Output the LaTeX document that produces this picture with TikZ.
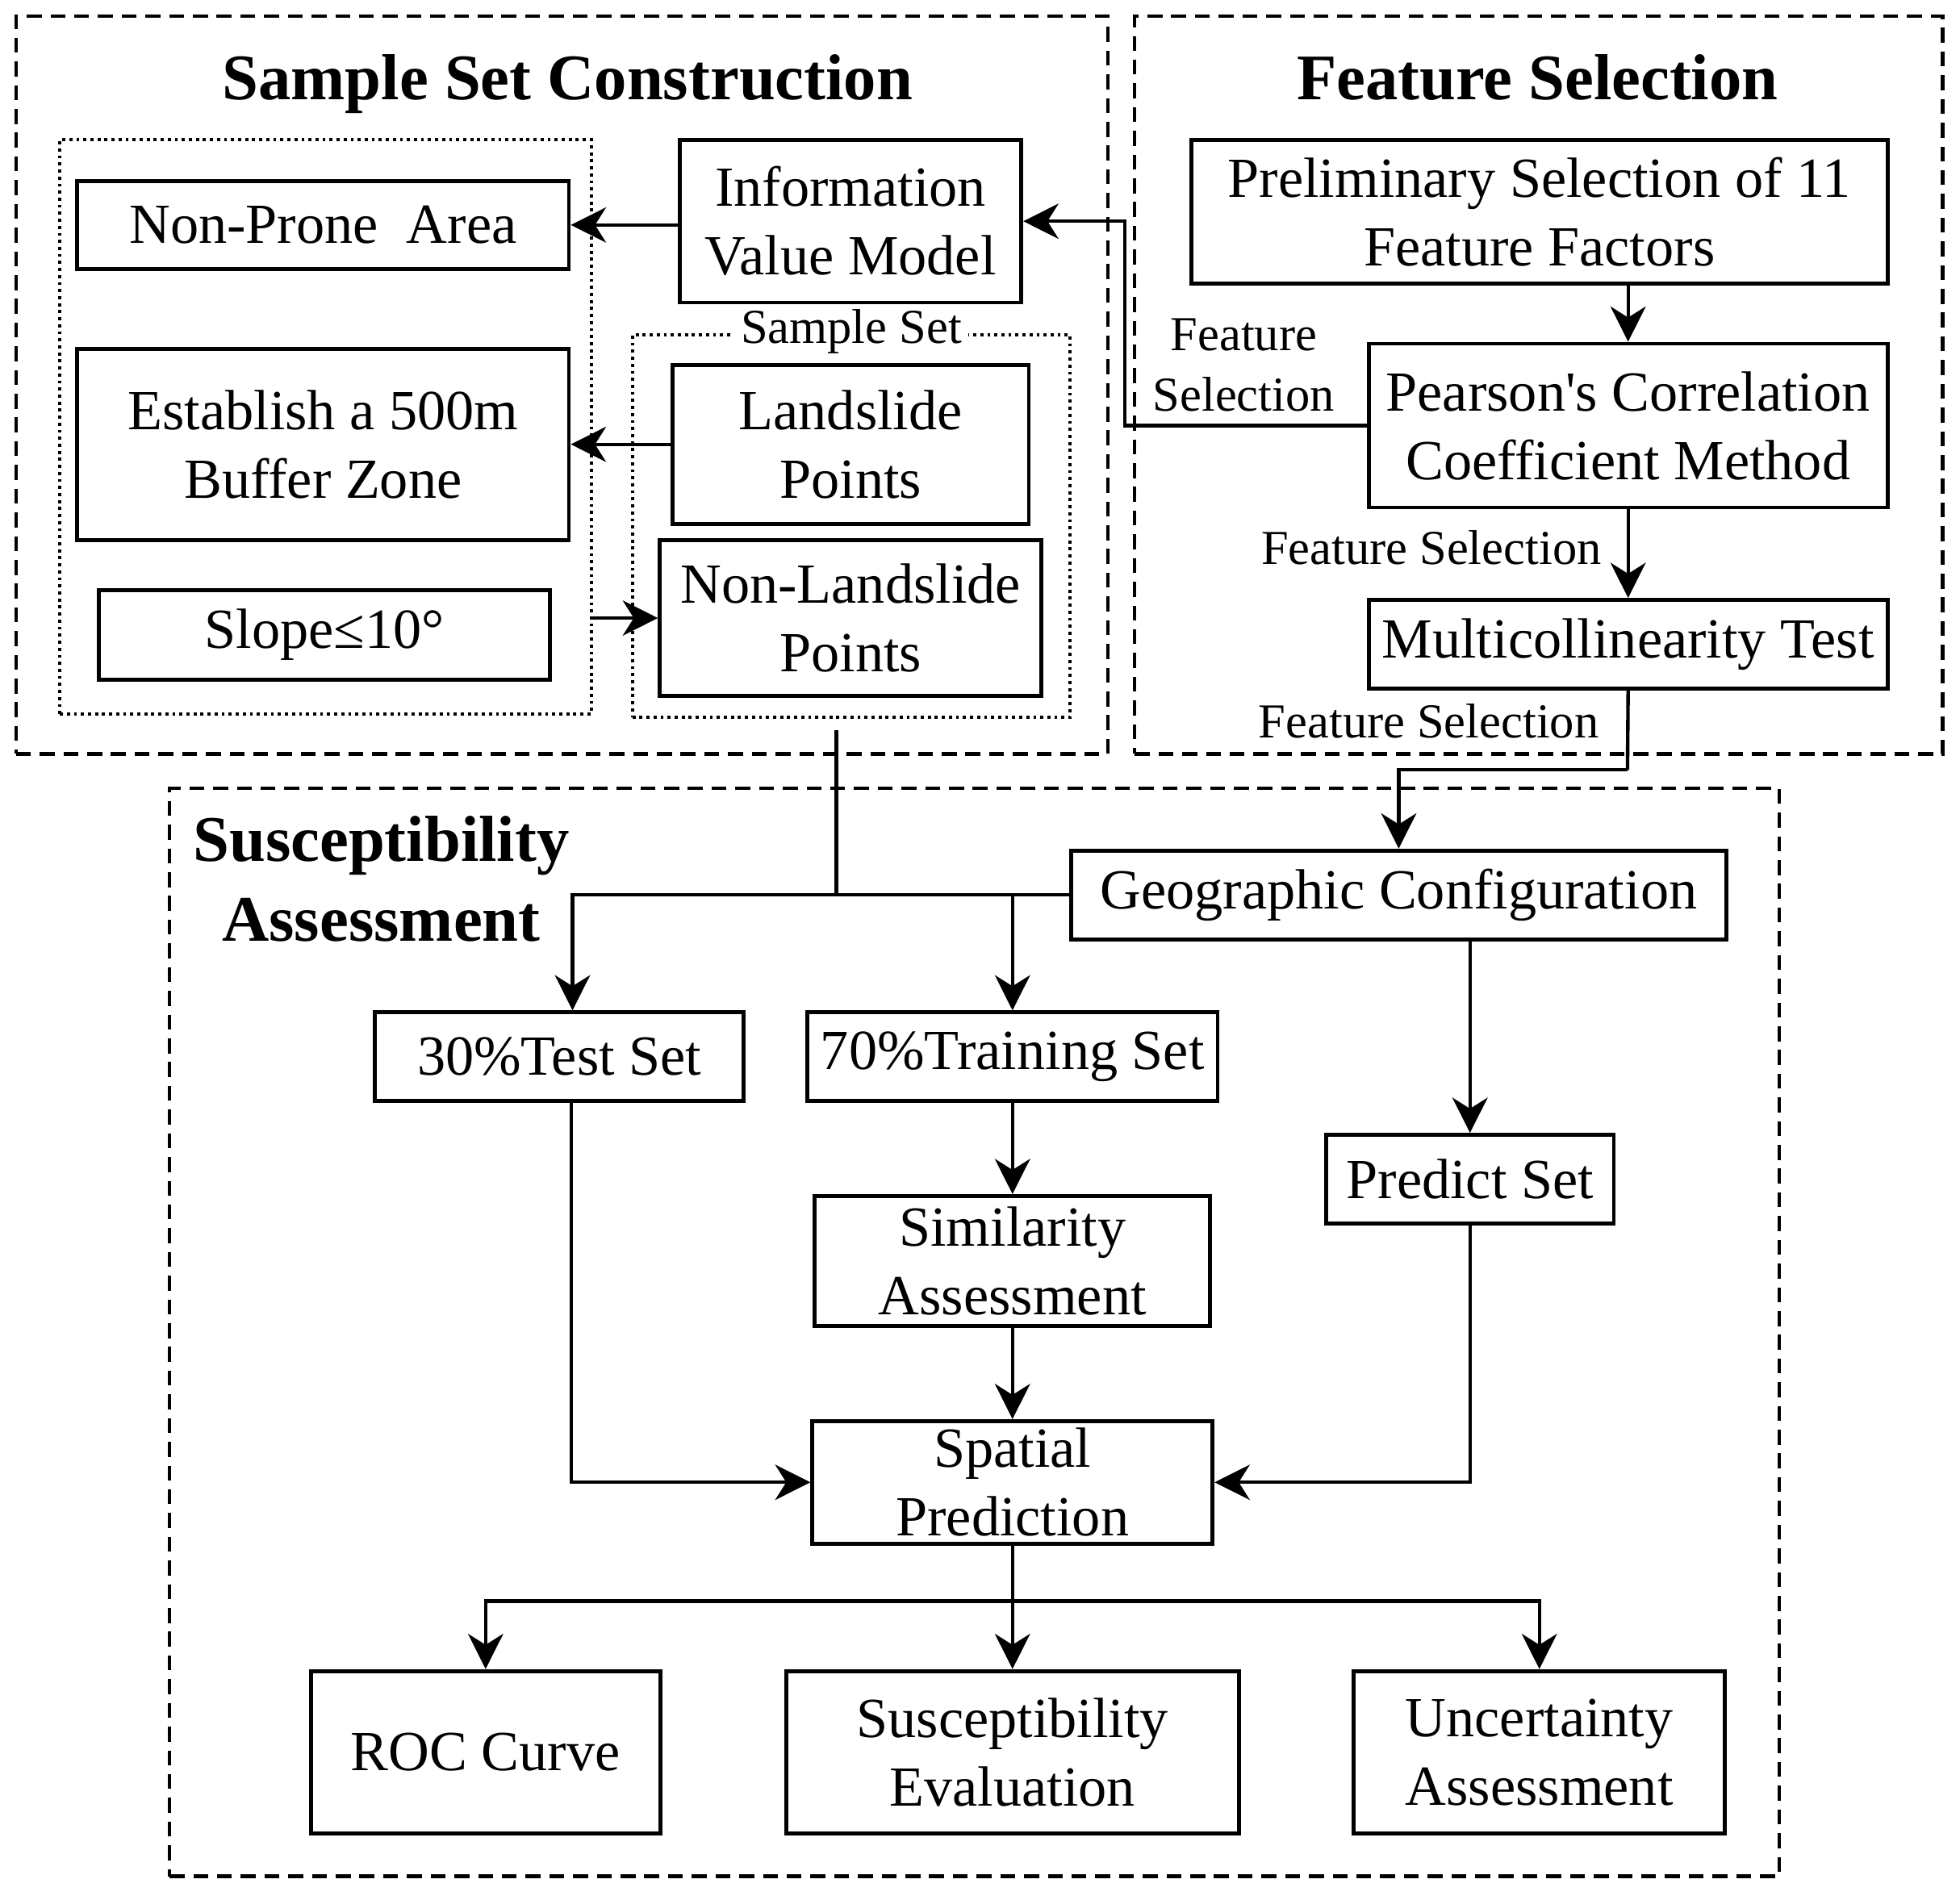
\documentclass[tikz,border=0pt]{standalone}
\usepackage{fontspec}
\setmainfont{Liberation Serif}
\usetikzlibrary{arrows.meta,calc}
\begin{document}
\begin{tikzpicture}[x=0.01cm,y=-0.01cm,
  box/.style={draw,line width=0.9pt,align=center,inner sep=0pt,font=\fontsize{12.9}{15.6}\selectfont},
  frame/.style={draw,line width=0.8pt,dash pattern=on 3.4pt off 2pt,inner sep=0pt},
  dotframe/.style={draw,line width=0.7pt,dash pattern=on 0.7pt off 0.9pt,inner sep=0pt},
  ttl/.style={font=\fontsize{14.8}{18.2}\selectfont\bfseries,align=center,inner sep=0pt},
  lbl/.style={font=\fontsize{11.1}{13.7}\selectfont,align=center,inner sep=0pt},
  arr/.style={line width=0.8pt,-{Stealth[length=8pt,width=8pt,inset=2.5pt]}},
  ln/.style={line width=0.8pt}]
\useasboundingbox (0,0) rectangle (1568,1517);
% frames
\node[frame,minimum width=8.73cm,minimum height=5.90cm] (fA) at (449.5,308) {};
\node[frame,minimum width=6.46cm,minimum height=5.90cm] (fB) at (1231,308) {};
\node[frame,minimum width=12.87cm,minimum height=8.70cm] (fC) at (779.5,1066) {};
\node[dotframe,minimum width=4.25cm,minimum height=4.59cm] (dL) at (260.5,341.5) {};
\node[dotframe,minimum width=3.50cm,minimum height=3.06cm] (dS) at (681,421) {};
\node[lbl,fill=white,inner sep=1.5pt] (ssl) at (681,265) {Sample Set};
% titles
\node[ttl,anchor=base] (t1) at (454,80) {Sample Set Construction};
\node[ttl,anchor=base] (t2) at (1230,80) {Feature Selection};
\node[ttl] (t3) at (305,703) {Susceptibility\\Assessment};
% sample set construction
\node[box,minimum width=3.93cm,minimum height=0.70cm] (np) at (258.5,180) {Non-Prone\ \ Area};
\node[box,minimum width=2.73cm,minimum height=1.30cm] (ivm) at (680.5,177) {Information\\Value Model};
\node[box,minimum width=3.93cm,minimum height=1.53cm] (est) at (258.5,355.5) {Establish a 500m\\Buffer Zone};
\node[box,minimum width=2.85cm,minimum height=1.27cm] (ls) at (680.5,355.5) {Landslide\\Points};
\node[box,minimum width=3.05cm,minimum height=1.25cm] (nls) at (680.5,494.5) {Non-Landslide\\Points};
\node[box,minimum width=3.61cm,minimum height=0.72cm] (slope) at (259.5,508) {Slope≤10°};
% feature selection
\node[box,minimum width=5.57cm,minimum height=1.15cm] (prel) at (1231.5,169.5) {Preliminary Selection of 11\\Feature Factors};
\node[box,minimum width=4.15cm,minimum height=1.31cm] (pear) at (1302.5,340.5) {Pearson\textquotesingle s Correlation\\Coefficient Method};
\node[box,minimum width=4.15cm,minimum height=0.71cm] (multi) at (1302.5,515.5) {Multicollinearity Test};
\node[lbl] (fs1) at (995,292) {Feature\\Selection};
\node[lbl] (fs2) at (1145,438) {Feature Selection};
\node[lbl] (fs3) at (1143,577) {Feature Selection};
% susceptibility assessment
\node[box,minimum width=5.24cm,minimum height=0.71cm] (geo) at (1119,716) {Geographic Configuration};
\node[box,minimum width=2.95cm,minimum height=0.71cm] (test) at (447.5,845.5) {30\%Test Set};
\node[box,minimum width=3.28cm,minimum height=0.71cm] (train) at (810,845.5) {70\%Training Set};
\node[box,minimum width=2.30cm,minimum height=0.71cm] (pred) at (1176,943.5) {Predict Set};
\node[box,minimum width=3.16cm,minimum height=1.04cm] (sim) at (810,1009) {Similarity\\Assessment};
\node[box,minimum width=3.20cm,minimum height=0.98cm] (spat) at (810,1186) {Spatial\\Prediction};
\node[box,minimum width=2.79cm,minimum height=1.30cm] (roc) at (388.5,1402) {ROC Curve};
\node[box,minimum width=3.62cm,minimum height=1.30cm] (susc) at (810,1402) {Susceptibility\\Evaluation};
\node[box,minimum width=2.97cm,minimum height=1.30cm] (unc) at (1231.5,1402) {Uncertainty\\Assessment};
% coordinates
\coordinate (k1) at (900,340.5);
\coordinate (k2) at (669,584);
\coordinate (k3) at (1302,616);
\coordinate (hb) at (810,1281);
% connectors
\draw[arr] (ivm.west |- np.east) -- (np.east);
\draw[arr] (ls.west) -- (est.east);
\draw[arr] (dL.east |- nls.west) -- (nls.west);
\draw[arr] (pear.west) -- (k1) |- (ivm.east);
\draw[arr] (prel.south -| pear.north) -- (pear.north);
\draw[arr] (pear.south) -- (multi.north);
\draw[ln] (multi.south) -- (k3);
\draw[arr] (k3) -| (geo.north);
\draw[ln] (k2) -- (k2 |- geo.west);
\draw[arr] (geo.west) -| ([xshift=0.105cm]test.north);
\draw[arr] (train.north |- geo.west) -- (train.north);
\draw[arr] (pred.north |- geo.south) -- (pred.north);
\draw[arr] (train.south) -- (sim.north);
\draw[arr] (sim.south) -- (spat.north);
\draw[arr] ([xshift=0.095cm]test.south) |- (spat.west);
\draw[arr] (pred.south) |- (spat.east);
\draw[ln] (spat.south) -- (hb);
\draw[arr] (hb) -| (roc.north);
\draw[arr] (hb) -| (unc.north);
\draw[arr] (hb) -- (susc.north);
\end{tikzpicture}
\end{document}
